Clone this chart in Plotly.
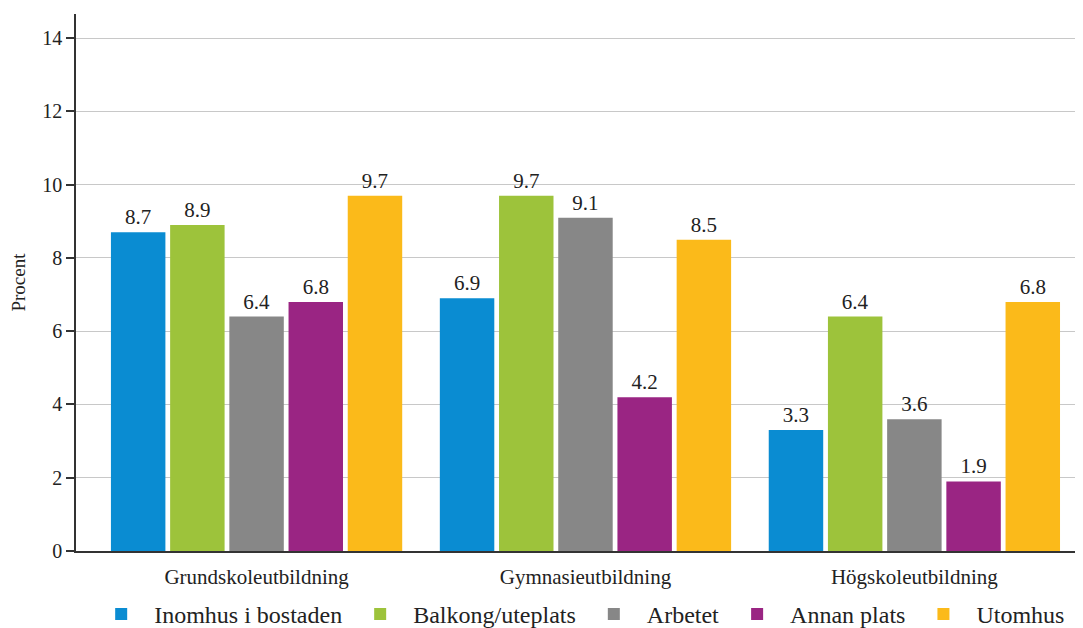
import plotly.graph_objects as go

categories = ["Grundskoleutbildning", "Gymnasieutbildning", "Högskoleutbildning"]
series_names = ["Inomhus i bostaden", "Balkong/uteplats", "Arbetet", "Annan plats", "Utomhus"]
inomhus = [8.7, 6.9, 3.3]
balkong = [8.9, 9.7, 6.4]
arbetet = [6.4, 9.1, 3.6]
annan = [6.8, 4.2, 1.9]
utomhus = [9.7, 8.5, 6.8]
colors = ["#0A8CD2", "#9DC33B", "#878787", "#9A2583", "#FBBA1A"]
y_ticks = [0, 2, 4, 6, 8, 10, 12, 14]

series_values = [inomhus, balkong, arbetet, annan, utomhus]
FONT = "Liberation Serif"

fig = go.Figure()
for name, vals, col in zip(series_names, series_values, colors):
    fig.add_trace(go.Bar(
        name=name, x=categories, y=vals, marker=dict(color=col, line=dict(width=0)),
        text=[f"{v:.1f}" for v in vals], textposition="outside",
        textfont=dict(family=FONT, size=21, color="#222"), cliponaxis=False,
    ))

fig.update_layout(
    width=1083, height=628,
    margin=dict(l=68, r=0, t=6, b=85, autoexpand=False),
    paper_bgcolor="white", plot_bgcolor="white",
    barmode="group", bargap=0.10, bargroupgap=0.08,
    font=dict(family=FONT, size=20, color="#222"),
    showlegend=True,
    legend=dict(orientation="h", x=0.012, xanchor="left", y=-0.118, yanchor="middle",
                font=dict(family=FONT, size=24, color="#222"), traceorder="normal",
                itemwidth=56),
)
fig.update_yaxes(
    range=[0, 14.66], tickvals=y_ticks, ticktext=[str(t) for t in y_ticks],
    showgrid=True, gridcolor="#c8c8c8", gridwidth=1,
    showline=True, linecolor="#333", linewidth=1.5,
    ticks="outside", ticklen=8, tickcolor="#333", tickwidth=1.5,
    tickfont=dict(family=FONT, size=20, color="#222"),
    title=dict(text="Procent", font=dict(family=FONT, size=19, color="#222"), standoff=18),
    zeroline=False,
)
fig.update_xaxes(
    range=[-0.549, 2.537], showline=True, linecolor="#333", linewidth=1.5,
    ticks="outside", ticklen=6, tickcolor="rgba(0,0,0,0)",
    tickfont=dict(family=FONT, size=21, color="#222"),
)
fig.write_html("out.html")
